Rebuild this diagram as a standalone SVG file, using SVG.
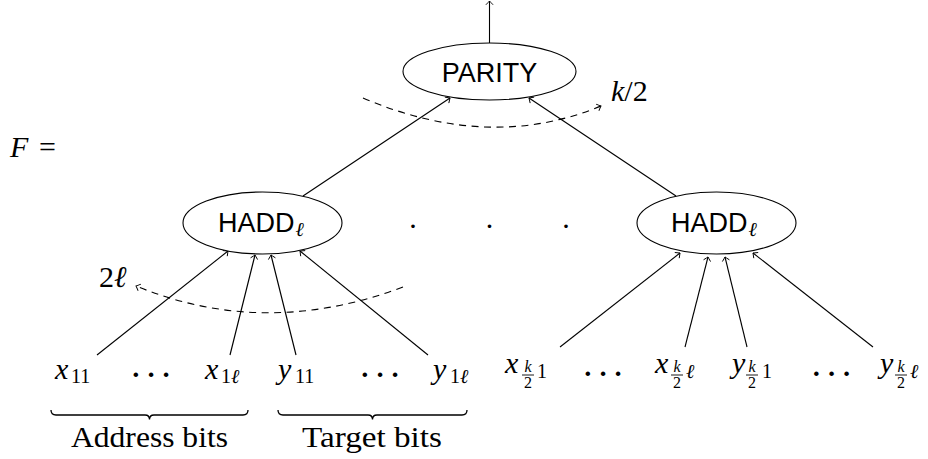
<svg xmlns="http://www.w3.org/2000/svg" width="928" height="459" viewBox="0 0 928 459">
<style>
.n{fill:#fff;stroke:#000;stroke-width:1.1}
.e{stroke:#000;stroke-width:1.1;fill:none;marker-end:url(#ar)}
.d{stroke:#000;stroke-width:1.1;fill:none;stroke-dasharray:7 5.5;marker-end:url(#ar)}
.b{stroke:#000;stroke-width:1.3;fill:none}
.sf{font-family:"Liberation Sans",Arial,sans-serif;font-size:27px;fill:#000}
.m{font-family:"Liberation Serif","DejaVu Serif",serif;font-size:30px;fill:#000}
.i{font-style:italic}
.s{font-size:20px}
.f{font-size:16px}
.dt{font-size:38px;letter-spacing:2.5px}
.r{font-family:"Liberation Serif","DejaVu Serif",serif;font-size:29px;fill:#000}
.fb{stroke:#000;stroke-width:0.9}
</style>
<defs>
<marker id="ar" markerUnits="userSpaceOnUse" markerWidth="10" markerHeight="10" viewBox="-5 -5 10 10" refX="0" refY="0" orient="auto" overflow="visible">
<path d="M-3.8,-3.6 Q-1,-0.9 0,0 Q-1,0.9 -3.8,3.6" fill="none" stroke="#000" stroke-width="0.9"/>
</marker>
</defs>
<g id="connectors">
<line class="e" x1="489.5" y1="43" x2="489.5" y2="1"/>
<line class="e" x1="303" y1="196" x2="450" y2="98"/>
<line class="e" x1="676" y1="196" x2="529" y2="98"/>
<line class="e" x1="97" y1="355" x2="228" y2="251"/>
<line class="e" x1="230" y1="355" x2="255" y2="255"/>
<line class="e" x1="296" y1="355" x2="271" y2="255"/>
<line class="e" x1="428" y1="355" x2="300" y2="251"/>
<line class="e" x1="560" y1="347" x2="680" y2="253"/>
<line class="e" x1="685" y1="347" x2="708" y2="257"/>
<line class="e" x1="747" y1="347" x2="725" y2="257"/>
<line class="e" x1="873" y1="347" x2="753" y2="253"/>
<path class="d" d="M363,98 Q490,152 601,106"/>
<path class="d" d="M403,287 Q265,339 136,286"/>
</g>
<g id="parity">
<ellipse class="n" cx="489.5" cy="71.5" rx="86.5" ry="28.5"/>
<text class="sf" x="489.5" y="82" text-anchor="middle">PARITY</text>
</g>
<g id="hadd-left">
<ellipse class="n" cx="262.5" cy="223" rx="79.5" ry="31"/>
<text class="sf" x="218" y="232">HADD<tspan class="m i s" dy="4" dx="1">ℓ</tspan></text>
</g>
<g id="hadd-right">
<ellipse class="n" cx="716.5" cy="223" rx="79.5" ry="31"/>
<text class="sf" x="671" y="232">HADD<tspan class="m i s" dy="4" dx="1">ℓ</tspan></text>
</g>
<g id="labels">
<text class="m" x="10" y="157"><tspan class="i">F</tspan></text>
<text class="m" x="39" y="157" font-size="32">=</text>
<text class="m" y="236" font-size="64" text-anchor="middle"><tspan x="413">·</tspan><tspan x="489.5">·</tspan><tspan x="566">·</tspan></text>
<text class="m" x="611" y="101"><tspan class="i">k</tspan>/2</text>
<text class="m" x="99" y="287" font-size="28">2<tspan class="i">ℓ</tspan></text>
<!-- left inputs -->
<text class="m" x="55" y="379"><tspan class="i">x</tspan><tspan class="s" x="71" dy="4">11</tspan></text>
<text class="m dt" x="129.5" y="387">···</text>
<text class="m" x="205" y="379"><tspan class="i">x</tspan><tspan class="s" x="221" dy="4">1</tspan><tspan class="s i">ℓ</tspan></text>
<text class="m" x="278" y="379"><tspan class="i">y</tspan><tspan class="s" x="295" dy="4">11</tspan></text>
<text class="m dt" x="358.5" y="387">···</text>
<text class="m" x="433" y="379"><tspan class="i">y</tspan><tspan class="s" x="450" dy="4">1</tspan><tspan class="s i">ℓ</tspan></text>
<!-- right inputs -->
<text class="m i" x="505" y="373">x</text>
<text class="m i f" x="528" y="372" text-anchor="middle">k</text>
<line class="fb" x1="522" y1="375" x2="534" y2="375"/>
<text class="m f" x="528" y="388" text-anchor="middle">2</text>
<text class="m s" x="537" y="378">1</text>
<text class="m dt" x="581.5" y="386">···</text>
<text class="m i" x="655" y="373">x</text>
<text class="m i f" x="677" y="372" text-anchor="middle">k</text>
<line class="fb" x1="671" y1="375" x2="683" y2="375"/>
<text class="m f" x="677" y="388" text-anchor="middle">2</text>
<text class="m s i" x="686" y="378">ℓ</text>
<text class="m i" x="732" y="373">y</text>
<text class="m i f" x="752" y="372" text-anchor="middle">k</text>
<line class="fb" x1="746" y1="375" x2="758" y2="375"/>
<text class="m f" x="752" y="388" text-anchor="middle">2</text>
<text class="m s" x="762" y="378">1</text>
<text class="m dt" x="810" y="386">···</text>
<text class="m i" x="880" y="373">y</text>
<text class="m i f" x="901" y="372" text-anchor="middle">k</text>
<line class="fb" x1="895" y1="375" x2="907" y2="375"/>
<text class="m f" x="901" y="388" text-anchor="middle">2</text>
<text class="m s i" x="910" y="378">ℓ</text>
</g>
<g id="braces">
<path class="b" d="M51,410 Q51,415 56,415 L145,415 Q149.5,415 149.5,419.5 Q149.5,415 154,415 L243,415 Q248,415 248,410"/>
<path class="b" d="M278,410 Q278,415 283,415 L368,415 Q372.5,415 372.5,419.5 Q372.5,415 377,415 L462,415 Q467,415 467,410"/>
<text class="r" x="71" y="447" textLength="157" lengthAdjust="spacingAndGlyphs">Address bits</text>
<text class="r" x="302" y="447" textLength="140" lengthAdjust="spacingAndGlyphs">Target bits</text>
</g>
</svg>
